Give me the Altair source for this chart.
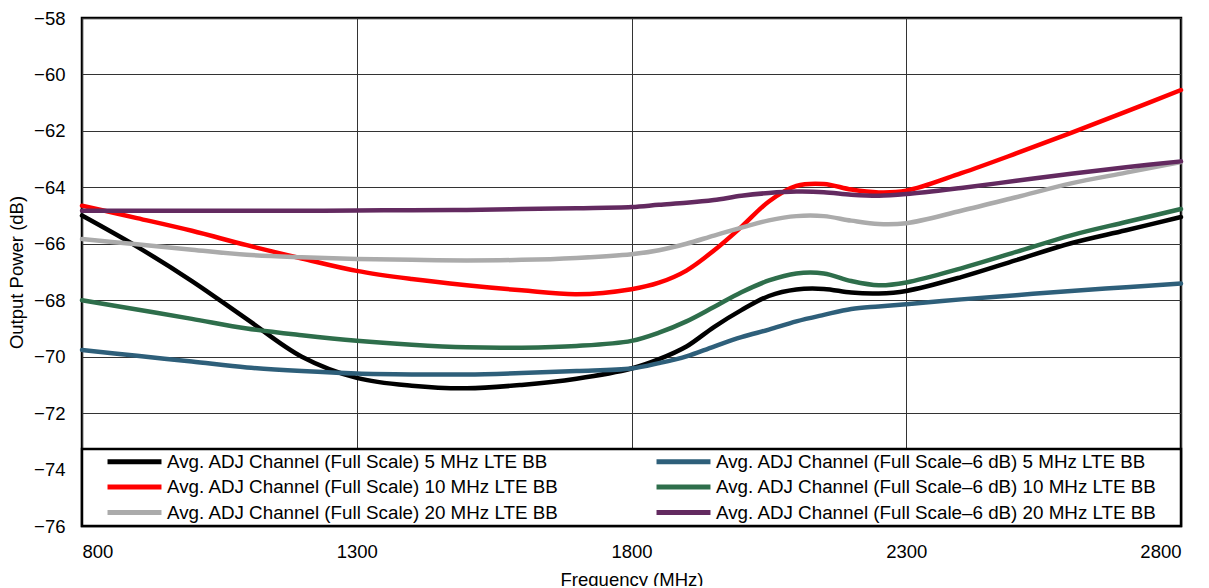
import altair as alt
import pandas as pd

freq = [800, 900, 1000, 1100, 1200, 1300, 1400, 1500, 1600, 1700, 1800, 1850, 1900,
        1950, 2000, 2050, 2100, 2150, 2200, 2250, 2300, 2400, 2500, 2600, 2700, 2800]

fs_5 = [-65.0, -66.10, -67.32, -68.67, -70.0, -70.75, -71.03, -71.12, -71.0, -70.78, -70.42, -70.09, -69.64,
        -68.95, -68.35, -67.85, -67.62, -67.6, -67.73, -67.76, -67.67, -67.18, -66.58, -65.98, -65.52, -65.05]
fs_10 = [-64.65, -65.09, -65.54, -66.05, -66.52, -66.96, -67.25, -67.47, -67.65, -67.79, -67.61, -67.38, -66.95,
         -66.24, -65.4, -64.5, -63.95, -63.88, -64.08, -64.18, -64.12, -63.5, -62.8, -62.07, -61.32, -60.55]
fs_20 = [-65.83, -66.02, -66.21, -66.39, -66.48, -66.54, -66.57, -66.59, -66.57, -66.5, -66.37, -66.23, -66.0,
         -65.71, -65.43, -65.17, -65.02, -65.02, -65.18, -65.3, -65.27, -64.83, -64.35, -63.86, -63.48, -63.1]
m6_5 = [-69.76, -69.97, -70.17, -70.38, -70.51, -70.6, -70.63, -70.63, -70.58, -70.51, -70.42, -70.23, -69.99,
        -69.64, -69.31, -69.04, -68.75, -68.52, -68.31, -68.22, -68.14, -67.97, -67.82, -67.67, -67.54, -67.41]
m6_10 = [-68.0, -68.33, -68.66, -69.0, -69.24, -69.44, -69.58, -69.67, -69.68, -69.62, -69.44, -69.15, -68.75,
         -68.24, -67.72, -67.3, -67.05, -67.05, -67.32, -67.47, -67.37, -66.87, -66.29, -65.7, -65.23, -64.77]
m6_20 = [-64.83, -64.83, -64.83, -64.83, -64.83, -64.82, -64.81, -64.8, -64.77, -64.74, -64.7, -64.62, -64.55,
         -64.45, -64.3, -64.2, -64.15, -64.17, -64.26, -64.3, -64.24, -64.02, -63.77, -63.52, -63.29, -63.08]

# legend fills column by column: left column = Full Scale, right column = Full Scale-6 dB
series_names = [
    "Avg. ADJ Channel (Full Scale) 5 MHz LTE BB",
    "Avg. ADJ Channel (Full Scale) 10 MHz LTE BB",
    "Avg. ADJ Channel (Full Scale) 20 MHz LTE BB",
    "Avg. ADJ Channel (Full Scale\u20136 dB) 5 MHz LTE BB",
    "Avg. ADJ Channel (Full Scale\u20136 dB) 10 MHz LTE BB",
    "Avg. ADJ Channel (Full Scale\u20136 dB) 20 MHz LTE BB",
]
series_values = [fs_5, fs_10, fs_20, m6_5, m6_10, m6_20]
series_colors = ["#000000", "#FF0000", "#ABABAB", "#2E5F7A", "#2E6E4B", "#632A60"]

x_ticks = [800, 1300, 1800, 2300, 2800]
y_ticks = list(range(-76, -57, 2))

rows = []
for name, vals in zip(series_names, series_values):
    for f, v in zip(freq, vals):
        rows.append({"Frequency": f, "Power": v, "Series": name})
df = pd.DataFrame(rows)

W, H = 1099, 508
FONT = "Liberation Sans"

lines = alt.Chart(df).mark_line(strokeWidth=4.5, interpolate="catmull-rom", strokeCap="round").encode(
    x=alt.X("Frequency:Q",
            scale=alt.Scale(domain=[800, 2800], nice=False, zero=False),
            axis=alt.Axis(values=x_ticks, format="d", title="Frequency (MHz)", grid=True,
                          ticks=False, domain=False, labelPadding=16, titlePadding=10)),
    y=alt.Y("Power:Q",
            scale=alt.Scale(domain=[-76, -58], nice=False, zero=False),
            axis=alt.Axis(values=y_ticks, format="d", title="Output Power (dB)", grid=True,
                          ticks=False, domain=False, labelPadding=17, titlePadding=7)),
    color=alt.Color("Series:N",
                    scale=alt.Scale(domain=series_names, range=series_colors),
                    legend=alt.Legend(orient="none", legendX=43, legendY=434, columns=2,
                                      title=None, symbolType="M-4,0H4", symbolSize=182,
                                      symbolStrokeWidth=5, labelOffset=23, labelFontSize=18.8,
                                      labelFont=FONT, labelColor="black", labelLimit=700,
                                      rowPadding=4.5, columnPadding=87, padding=0)),
    order=alt.Order("Frequency:Q"),
)

legend_box = alt.Chart(pd.DataFrame({"k": [0]})).mark_rect(
    fill="white", stroke="black", strokeWidth=2.5
).encode(x=alt.value(0), x2=alt.value(W), y=alt.value(431), y2=alt.value(H))

chart = alt.layer(lines, legend_box).properties(
    width=W, height=H,
    autosize=alt.AutoSizeParams(type="none"),
    padding={"left": 74, "top": 10, "right": 20, "bottom": 60},
).configure(font=FONT).configure_view(
    stroke="black", strokeWidth=2.5
).configure_axis(
    gridColor="#333333", gridWidth=1, gridOpacity=1,
    labelFont=FONT, labelFontSize=18.5, labelColor="black",
    titleFont=FONT, titleFontSize=18.5, titleColor="black", titleFontWeight="normal",
)

chart.save("out.html", embed_options={"renderer": "svg", "actions": False})
